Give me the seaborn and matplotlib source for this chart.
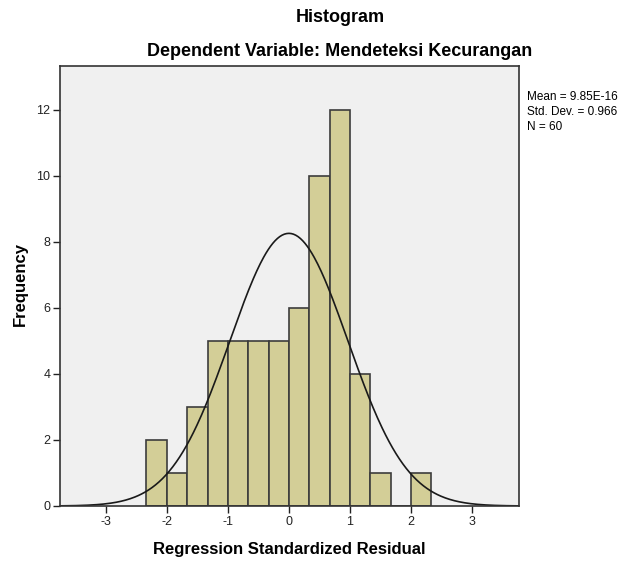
import numpy as np
import matplotlib
matplotlib.use("Agg")
import matplotlib.pyplot as plt
import seaborn as sns

# histogram bins (standardized residuals), width 1/3
bin_edges = [-7/3, -2, -5/3, -4/3, -1, -2/3, -1/3, 0, 1/3, 2/3, 1, 4/3, 5/3, 2, 7/3]
counts = [2, 1, 3, 5, 5, 5, 5, 6, 10, 12, 4, 1, 0, 1]

mean = 9.85e-16
std_dev = 0.966
n = 60
bin_width = 1/3

x_ticks = [-3, -2, -1, 0, 1, 2, 3]
y_ticks = [0, 2, 4, 6, 8, 10, 12]

sns.set_style("white")
plt.rcParams['font.family'] = ['Liberation Sans', 'DejaVu Sans']
plt.rcParams['text.color'] = 'black'
plt.rcParams['axes.labelcolor'] = 'black'
plt.rcParams['xtick.color'] = '#222222'
plt.rcParams['ytick.color'] = '#222222'

fig = plt.figure(figsize=(6.19, 5.61), dpi=100)
ax = fig.add_axes([60/619, 55/561, 459/619, 440/561])
ax.set_facecolor("#f0f0f0")

centers = [(a + b) / 2 for a, b in zip(bin_edges[:-1], bin_edges[1:])]
sns.histplot(x=centers, weights=counts, bins=bin_edges, ax=ax,
             color="#d3ce97", alpha=1, edgecolor="#3c3c3c", linewidth=1.2)

# fitted normal curve
xs = np.linspace(-3.75, 3.77, 400)
ys = n * bin_width * np.exp(-0.5 * ((xs - mean) / std_dev) ** 2) / (std_dev * np.sqrt(2 * np.pi))
sns.lineplot(x=xs, y=ys, ax=ax, color="#1a1a1a", linewidth=1.2)

ax.set_xlim(-3.75, 3.77)
ax.set_ylim(0, 13.33)
ax.set_xticks(x_ticks)
ax.set_xticklabels([str(t) for t in x_ticks])
ax.set_yticks(y_ticks)
ax.tick_params(direction="out", length=5, width=1, labelsize=9, pad=2,
               bottom=True, left=True)
for s in ax.spines.values():
    s.set_color("#333333")
    s.set_linewidth(1.2)

ax.set_xlabel("Regression Standardized Residual", fontsize=12, fontweight="bold", labelpad=10)
ax.set_ylabel("Frequency", fontsize=12, fontweight="bold")
ax.yaxis.set_label_coords(-32/459, (506 - 284) / 440)

fig.text(340/619, 1 - 18/561, "Histogram", ha="center", va="center",
         fontsize=13, fontweight="bold")
fig.text(340/619, 1 - 51/561, "Dependent Variable: Mendeteksi Kecurangan", ha="center",
         va="center", fontsize=13, fontweight="bold")

fig.text(527/619, 1 - 91/561,
         "Mean = 9.85E-16\nStd. Dev. = 0.966\nN = 60",
         ha="left", va="top", fontsize=8.5, linespacing=1.35)

fig.savefig("out.png", dpi=100, facecolor="white")
